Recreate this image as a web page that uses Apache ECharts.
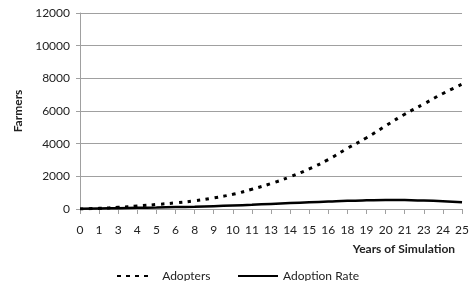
<!DOCTYPE html>
<html>
<head>
<meta charset="utf-8">
<script src="https://cdn.jsdelivr.net/npm/echarts@6/dist/echarts.min.js"></script>
<style>html,body{margin:0;padding:0;background:#fff}#c{width:472px;height:281px}</style>
</head>
<body>
<div id="c"></div>
<script>
const categories = ['0','1','3','4','5','6','8','9','10','11','13','14','15','16','18','19','20','21','23','24','25'];
const adopters = [0, 40, 100, 185, 275, 375, 500, 680, 900, 1210, 1560, 1970, 2460, 3030, 3720, 4360, 5090, 5800, 6430, 7070, 7640];
const adoptionRate = [10, 30, 50, 70, 90, 115, 140, 175, 215, 260, 310, 360, 410, 455, 500, 530, 550, 545, 515, 470, 410];
const yTicks = { min: 0, max: 12000, interval: 2000 };

const FONT = 'Lato';
const chart = echarts.init(document.getElementById('c'));
chart.setOption({
  animation: false,
  backgroundColor: '#fff',
  textStyle: { fontFamily: FONT },
  grid: { left: 80, right: 9, top: 13, bottom: 72 },
  legend: [
    { data: ['Adopters'], left: 116, top: 270, padding: 0, itemWidth: 34, itemHeight: 12,
      itemStyle: { opacity: 0 },
      lineStyle: { type: [4, 5] },
      formatter: function (n) { return '  ' + n; },
      textStyle: { fontFamily: FONT, fontSize: 12, color: '#222' } },
    { data: ['Adoption Rate'], left: 237, top: 270, padding: 0, itemWidth: 40, itemHeight: 12,
      itemStyle: { opacity: 0 },
      textStyle: { fontFamily: FONT, fontSize: 12, color: '#222' } }
  ],
  xAxis: {
    type: 'category',
    data: categories,
    boundaryGap: false,
    name: 'Years of Simulation',
    nameLocation: 'end',
    nameGap: 0,
    nameTextStyle: { fontFamily: FONT, fontSize: 12, fontWeight: 'bold', color: '#222',
      align: 'right', verticalAlign: 'top', padding: [34, 7, 0, 0] },
    axisLine: { lineStyle: { color: '#a0a0a0', width: 1 } },
    axisTick: { show: true, alignWithLabel: true, length: 5, lineStyle: { color: '#a0a0a0' } },
    axisLabel: { fontFamily: FONT, fontSize: 12, color: '#222', margin: 15, interval: 0 },
    splitLine: { show: false }
  },
  yAxis: {
    type: 'value',
    min: yTicks.min, max: yTicks.max, interval: yTicks.interval,
    name: 'Farmers',
    nameLocation: 'middle',
    nameRotate: 90,
    nameGap: 47,
    nameTextStyle: { fontFamily: FONT, fontSize: 12, fontWeight: 'bold', color: '#222' },
    axisLine: { show: true, lineStyle: { color: '#a0a0a0', width: 1 } },
    axisTick: { show: true, length: 4, lineStyle: { color: '#a0a0a0' } },
    axisLabel: { fontFamily: FONT, fontSize: 12, color: '#222', margin: 10,
      formatter: function (v) { return String(v); } },
    splitLine: { lineStyle: { color: '#a0a0a0', width: 1 } }
  },
  series: [
    { name: 'Adopters', type: 'line', data: adopters, smooth: true, symbol: 'none',
      lineStyle: { color: '#000', width: 3, type: [3.5, 5.5], cap: 'butt' },
      itemStyle: { color: '#000' } },
    { name: 'Adoption Rate', type: 'line', data: adoptionRate, smooth: true, symbol: 'none',
      lineStyle: { color: '#000', width: 2.5 },
      itemStyle: { color: '#000' } }
  ]
});
</script>
</body>
</html>
